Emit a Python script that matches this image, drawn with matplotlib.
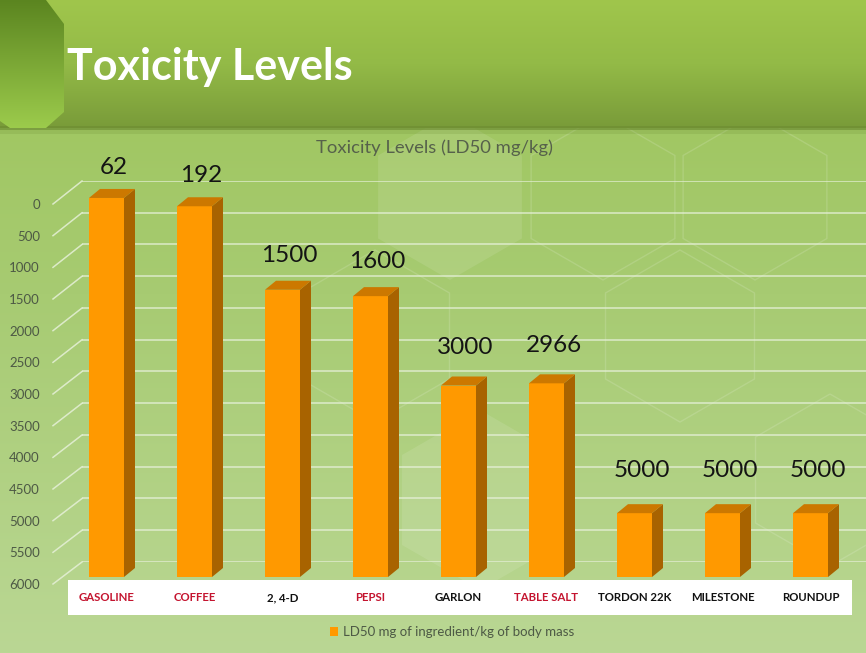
import numpy as np
import matplotlib
matplotlib.use("Agg")
import matplotlib.pyplot as plt
from matplotlib.patches import Polygon, Rectangle
from matplotlib.colors import LinearSegmentedColormap

# ---------------- data ----------------
categories = ["GASOLINE", "COFFEE", "2, 4-D", "PEPSI", "GARLON",
              "TABLE SALT", "TORDON 22K", "MILESTONE", "ROUNDUP"]
values = [62, 192, 1500, 1600, 3000, 2966, 5000, 5000, 5000]
label_colors = ["#c4142f", "#c4142f", "#111111", "#c4142f", "#111111",
                "#c4142f", "#111111", "#111111", "#111111"]
y_ticks = list(range(0, 6001, 500))
y_max = 6000
series_name = "LD50 mg of ingredient/kg of body mass"
chart_title = "Toxicity Levels (LD50 mg/kg)"
slide_title = "Toxicity Levels"

W, H = 866, 653
FONT = "Lato"
fig = plt.figure(figsize=(W / 100, H / 100), dpi=100)

def fx(px):
    return px / W

def fy(py):
    return 1 - py / H

# ---------------- background ----------------
bg = fig.add_axes([0, 0, 1, 1], zorder=0)
bg.set_xlim(0, W)
bg.set_ylim(H, 0)
bg.axis("off")
bg_cmap = LinearSegmentedColormap.from_list(
    "bg", [(0, "#9cc457"), (0.45, "#a7cb72"), (1, "#bad794")])
grad = np.linspace(0, 1, 256).reshape(-1, 1)
bg.imshow(grad, cmap=bg_cmap, extent=[0, W, H, 0], aspect="auto", zorder=0)

def hexagon(cx, cy, r):
    ang = np.deg2rad([90, 30, -30, -90, -150, 150])
    return np.column_stack([cx + r * np.cos(ang), cy - r * np.sin(ang)])

for (cx, cy, r, fill) in [(450, 197, 83, True), (603, 197, 83, False),
                          (755, 197, 83, False), (680, 336, 86, False),
                          (375, 336, 86, False), (480, 500, 90, True),
                          (830, 480, 86, False)]:
    if fill:
        bg.add_patch(Polygon(hexagon(cx, cy, r), closed=True,
                             facecolor="white", alpha=0.10, edgecolor="none", zorder=1))
    else:
        bg.add_patch(Polygon(hexagon(cx, cy, r), closed=True, facecolor="none",
                             edgecolor="white", alpha=0.14, lw=1, zorder=1))

# banner
ban_cmap = LinearSegmentedColormap.from_list(
    "ban", [(0, "#a0c64c"), (0.5, "#93ba47"), (1, "#799b39")])
bg.imshow(grad, cmap=ban_cmap, extent=[0, W, 128, 0], aspect="auto", zorder=2)
bg.add_patch(Rectangle((0, 126), W, 4, facecolor="#6e8d33", edgecolor="none",
                       alpha=0.7, zorder=3))
bg.add_patch(Rectangle((0, 130), W, 4, facecolor="#6e8d33", edgecolor="none",
                       alpha=0.2, zorder=3))
# left hexagon tab
tab = Polygon([(0, 0), (46, 0), (64, 24), (64, 112), (46, 128), (10, 128), (0, 121)],
              closed=True, facecolor="none", edgecolor="none", zorder=4)
bg.add_patch(tab)
tab_cmap = LinearSegmentedColormap.from_list("tab", [(0, "#5b8520"), (1, "#9ccb4c")])
im = bg.imshow(grad, cmap=tab_cmap, extent=[0, 64, 128, 0], aspect="auto", zorder=4)
im.set_clip_path(tab)

fig.text(fx(67), fy(80), slide_title, color="white", fontsize=31,
         fontweight="bold", family=FONT, ha="left", va="baseline", zorder=10)

fig.text(fx(435), fy(153), chart_title, color="#56614b", fontsize=13.3,
         family=FONT, ha="center", va="baseline", zorder=10)

# ---------------- back wall gridlines ----------------
wall_l, wall_r, wall_t, wall_b = 82, 866, 181, 562
wall = fig.add_axes([fx(wall_l), fy(wall_b), fx(wall_r - wall_l), (wall_b - wall_t) / H],
                    zorder=1)
wall.set_ylim(y_max, 0)
wall.set_xlim(0, 1)
wall.set_yticks(y_ticks)
wall.set_xticks([])
wall.grid(axis="y", color="#e6f0d8", lw=1.1, alpha=0.85)
wall.tick_params(axis="y", length=0, labelleft=False)
for s in wall.spines.values():
    s.set_visible(False)
wall.patch.set_alpha(0)

# ---------------- tick labels (front edge) ----------------
tk_t, tk_b, tk_l = 204, 584, 44
tax = fig.add_axes([fx(tk_l), fy(tk_b), 0.001, (tk_b - tk_t) / H], zorder=2)
tax.set_ylim(y_max, 0)
tax.set_yticks(y_ticks)
tax.set_yticklabels([str(t) for t in y_ticks], family=FONT, fontsize=9.5,
                    color="#4d5945")
tax.tick_params(axis="y", length=0, pad=3)
tax.set_xticks([])
for s in tax.spines.values():
    s.set_visible(False)
tax.patch.set_alpha(0)

# diagonal connectors between front tick and back wall
for t in y_ticks:
    y0 = tk_t + (tk_b - tk_t) * t / y_max
    y1 = wall_t + (wall_b - wall_t) * t / y_max
    fig.add_artist(plt.Line2D([fx(53), fx(wall_l)], [fy(y0), fy(y1)],
                              color="#e6f0d8", lw=1.1, alpha=0.85, zorder=1))

# ---------------- bars ----------------
# pixel mapping: x center = 106.5 + 88*i ; y: 0 -> 194px, 6000 -> 577px
x0px, dxpx = 106.5, 88.0
y0px, y6px = 194.0, 577.0
xl = (0 - x0px) / dxpx
xr = (W - x0px) / dxpx
ppu = (y6px - y0px) / y_max
yt = (0 - y0px) / ppu
yb = (H - y0px) / ppu
ax = fig.add_axes([0, 0, 1, 1], zorder=3)
ax.set_xlim(xl, xr)
ax.set_ylim(yb, yt)
ax.axis("off")
ax.patch.set_alpha(0)

xs = np.arange(len(categories))
bw = 35 / dxpx
depth_x = 11 / dxpx
depth_y = 9 / ppu
heights = [y_max - v for v in values]
ax.bar(xs, heights, bottom=values, width=bw, color="#ff9900",
       edgecolor="none", label=series_name, zorder=3)
for x, v in zip(xs, values):
    r = x + bw / 2
    l = x - bw / 2
    side = Polygon([(r, v), (r + depth_x, v - depth_y), (r + depth_x, y_max - depth_y),
                    (r, y_max)], closed=True, facecolor="#a86300", edgecolor="none",
                   zorder=3)
    top = Polygon([(l, v), (l + depth_x, v - depth_y), (r + depth_x, v - depth_y),
                   (r, v)], closed=True, facecolor="#cc7800", edgecolor="none", zorder=3)
    ax.add_patch(side)
    ax.add_patch(top)
    ax.annotate(str(v), (x, v), textcoords="offset pixels",
                xytext=(7, 30 + 0.0026 * v), ha="center", va="center",
                fontsize=17.5, family=FONT, color="#141414", zorder=5)

# category label strip
ax.add_patch(Rectangle((fx(68), fy(615)), fx(852 - 68), (615 - 580) / H,
                       transform=fig.transFigure, facecolor="white",
                       edgecolor="none", zorder=4))
for x, c, col in zip(xs, categories, label_colors):
    ax.text(x, (598 - y0px) / ppu, c, ha="center", va="center", fontsize=8.2,
            fontweight="bold", family=FONT, color=col, zorder=6)

fig.legend(loc="center", bbox_to_anchor=(fx(452), fy(632)), frameon=False,
           handlelength=0.6, handleheight=0.6, handletextpad=0.4,
           prop={"family": FONT, "size": 9.5}, labelcolor="#4d5945")

fig.savefig("out.png", dpi=100)
